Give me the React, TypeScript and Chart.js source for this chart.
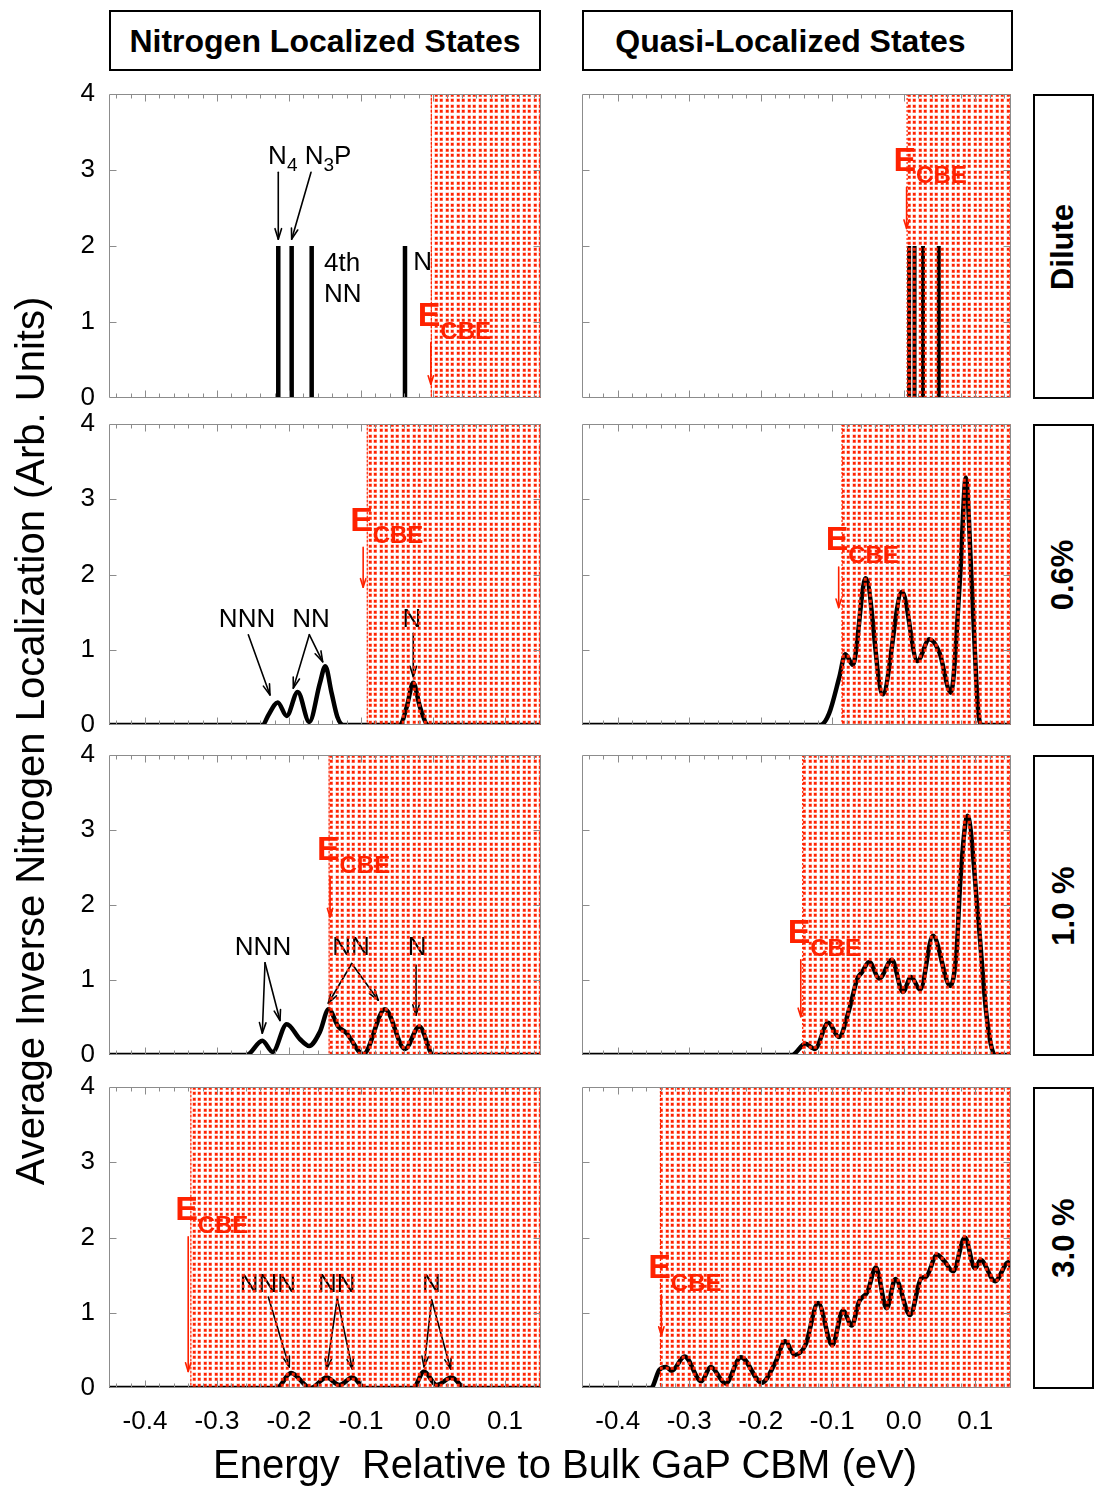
import React, { useEffect, useRef } from "react";
import { Chart, registerables } from "chart.js";

Chart.register(...registerables);

type Pt = [number, number];

// ---------- axes / text ----------
const X_MIN = -0.45;
const X_MAX = 0.15;
const Y_MIN = 0;
const Y_MAX = 4;
const X_TICKS = [-0.4, -0.3, -0.2, -0.1, 0.0, 0.1];
const X_MINOR_TICKS = [-0.44, -0.42, -0.38, -0.36, -0.34, -0.32, -0.28, -0.26, -0.24, -0.22, -0.18, -0.16, -0.14, -0.12, -0.08, -0.06, -0.04, -0.02, 0.02, 0.04, 0.06, 0.08, 0.12, 0.14];
const Y_TICKS = [0, 1, 2, 3, 4];

const COLUMN_TITLES = ["Nitrogen Localized States", "Quasi-Localized States"];
const ROW_LABELS = ["Dilute", "0.6%", "1.0 %", "3.0 %"];
const X_TITLE = "Energy  Relative to Bulk GaP CBM (eV)";
const Y_TITLE = "Average Inverse Nitrogen Localization (Arb. Units)";

// ---------- data ----------
const diluteNitrogenLevels = [-0.2149, -0.1963, -0.1685, -0.0389];
const diluteQuasiLevels = [0.0075, 0.0151, 0.0269, 0.049];
const diluteLevelHeight = 2;

const nitrogen06: Pt[] = [
  [-0.45, 0], [-0.2365, 0], [-0.2287, 0.13], [-0.2157, 0.30], [-0.2032, 0.12],
  [-0.1879, 0.44], [-0.1718, 0.04], [-0.157, 0.56], [-0.1496, 0.78], [-0.1407, 0.42],
  [-0.1329, 0.11], [-0.1246, 0], [-0.0458, 0], [-0.0365, 0.24], [-0.0274, 0.56],
  [-0.0181, 0.24], [-0.0065, 0], [0.15, 0],
];
const quasi06: Pt[] = [
  [-0.45, 0], [-0.1165, 0], [-0.1045, 0.15], [-0.09, 0.64], [-0.0817, 0.94],
  [-0.0713, 0.80], [-0.0532, 1.95], [-0.0295, 0.41], [-0.0023, 1.77], [0.0191, 0.85],
  [0.0358, 1.14], [0.050, 0.96], [0.0658, 0.43], [0.079, 2.0], [0.0868, 3.29],
  [0.095, 1.9], [0.104, 0.2], [0.1096, 0], [0.15, 0],
];
const nitrogen10: Pt[] = [
  [-0.45, 0], [-0.259, 0], [-0.237, 0.19], [-0.2226, 0.04], [-0.2032, 0.41],
  [-0.1847, 0.21], [-0.172, 0.12], [-0.157, 0.31], [-0.145, 0.61], [-0.1315, 0.38],
  [-0.12, 0.29], [-0.0968, 0.01], [-0.0667, 0.61], [-0.0389, 0.08], [-0.019, 0.38],
  [0.0004, 0], [0.15, 0],
];
const quasi10: Pt[] = [
  [-0.45, 0], [-0.1563, 0], [-0.1376, 0.15], [-0.1244, 0.08], [-0.1056, 0.43],
  [-0.0906, 0.24], [-0.0765, 0.6], [-0.0648, 1.02], [-0.0587, 1.10], [-0.0483, 1.24],
  [-0.0342, 1.02], [-0.0165, 1.27], [-0.0014, 0.84], [0.0103, 1.04], [0.023, 0.87],
  [0.0408, 1.59], [0.0652, 0.92], [0.074, 1.4], [0.079, 2.3], [0.0892, 3.19],
  [0.104, 1.84], [0.116, 0.51], [0.1277, 0], [0.15, 0],
];
const nitrogen30: Pt[] = [
  [-0.45, 0], [-0.217, 0], [-0.1972, 0.2], [-0.17, 0], [-0.1477, 0.14], [-0.13, 0.04],
  [-0.112, 0.14], [-0.0944, 0], [-0.0274, 0], [-0.0125, 0.22], [0.005, 0.04],
  [0.026, 0.14], [0.0444, 0], [0.15, 0],
];
const quasi30: Pt[] = [
  [-0.45, 0], [-0.3535, 0], [-0.3418, 0.24], [-0.3324, 0.28], [-0.3244, 0.23],
  [-0.3066, 0.42], [-0.2831, 0.09], [-0.27, 0.28], [-0.2493, 0.06], [-0.2277, 0.41],
  [-0.1986, 0.07], [-0.1799, 0.33], [-0.1658, 0.62], [-0.1525, 0.44], [-0.1376, 0.57],
  [-0.1197, 1.13], [-0.1, 0.57], [-0.085, 1.03], [-0.0728, 0.83], [-0.0625, 1.15],
  [-0.0507, 1.28], [-0.039, 1.60], [-0.0239, 1.06], [-0.0117, 1.45], [0.0089, 0.97],
  [0.0245, 1.46], [0.0314, 1.48], [0.0465, 1.77], [0.0573, 1.68], [0.069, 1.55],
  [0.0855, 2.0], [0.0996, 1.59], [0.1075, 1.70], [0.1277, 1.42], [0.1465, 1.67],
  [0.15, 1.6],
];

// conduction band edge (start of shaded region) per row
const cbeNitrogen = [-0.003, -0.092, -0.145, -0.337];
const cbeQuasi = [0.004, -0.087, -0.142, -0.341];
// E_CBE arrows: [x, yFrom, yTo]
const cbeArrowNitrogen: [number, number, number][] = [[-0.003, 0.73, 0.18], [-0.097, 2.36, 1.83], [-0.143, 2.38, 1.84], [-0.34, 2.01, 0.22]];
const cbeArrowQuasi: [number, number, number][] = [[0.004, 2.77, 2.23], [-0.091, 2.1, 1.56], [-0.144, 1.27, 0.51], [-0.339, 1.24, 0.7]];

// annotation labels (data coordinates) for the nitrogen column
type Part = { t: string; sub?: boolean };
type Label = { x: number; y: number; align: "left" | "center"; parts: Part[] };
const labelsNitrogen: Label[][] = [
  [
    { x: -0.229, y: 3.08, align: "left", parts: [{ t: "N" }, { t: "4", sub: true }, { t: " N" }, { t: "3", sub: true }, { t: "P" }] },
    { x: -0.1514, y: 1.67, align: "left", parts: [{ t: "4th" }] },
    { x: -0.1514, y: 1.26, align: "left", parts: [{ t: "NN" }] },
    { x: -0.0274, y: 1.69, align: "left", parts: [{ t: "N" }] },
  ],
  [
    { x: -0.2583, y: 1.30, align: "center", parts: [{ t: "NNN" }] },
    { x: -0.1694, y: 1.30, align: "center", parts: [{ t: "NN" }] },
    { x: -0.0292, y: 1.30, align: "center", parts: [{ t: "N" }] },
  ],
  [
    { x: -0.2361, y: 1.33, align: "center", parts: [{ t: "NNN" }] },
    { x: -0.1139, y: 1.33, align: "center", parts: [{ t: "NN" }] },
    { x: -0.0222, y: 1.33, align: "center", parts: [{ t: "N" }] },
  ],
  [
    { x: -0.2292, y: 1.28, align: "center", parts: [{ t: "NNN" }] },
    { x: -0.1338, y: 1.28, align: "center", parts: [{ t: "NN" }] },
    { x: -0.0024, y: 1.28, align: "center", parts: [{ t: "N" }] },
  ],
];
// black arrows: [x1, y1, x2, y2] in data coordinates
const arrowsNitrogen: [number, number, number, number][][] = [
  [[-0.2149, 2.97, -0.2149, 2.09], [-0.1694, 2.97, -0.1963, 2.09]],
  [[-0.2565, 1.2, -0.2264, 0.4], [-0.1718, 1.2, -0.194, 0.49], [-0.1718, 1.2, -0.1532, 0.84], [-0.0274, 1.22, -0.0274, 0.64]],
  [[-0.2333, 1.23, -0.2371, 0.29], [-0.2333, 1.23, -0.2125, 0.46], [-0.1129, 1.22, -0.1454, 0.69], [-0.1129, 1.22, -0.076, 0.73], [-0.0236, 1.2, -0.0236, 0.53]],
  [[-0.2287, 1.21, -0.1996, 0.28], [-0.1329, 1.19, -0.1476, 0.25], [-0.1329, 1.19, -0.112, 0.25], [-0.0018, 1.17, -0.0125, 0.28], [-0.0018, 1.17, 0.0246, 0.25]],
];

// ---------- layout ----------
const FONT = '"Liberation Sans", Arial, Helvetica, sans-serif';
const RED = "rgb(255,34,0)";
const FRAME = "#8c8c8c";
const COLS = [{ left: 109, width: 432 }, { left: 582, width: 429 }];
const ROWS = [{ top: 94, height: 304 }, { top: 424, height: 301 }, { top: 755, height: 300 }, { top: 1087, height: 301 }];
const ML = 60, MR = 20, MT = 34, MB = 34, MB_LAST = 64;

function drawArrow(ctx: CanvasRenderingContext2D, x1: number, y1: number, x2: number, y2: number, color: string, w: number, len: number, ang: number) {
  ctx.strokeStyle = color;
  ctx.lineWidth = w;
  ctx.lineCap = "round";
  ctx.lineJoin = "round";
  ctx.beginPath();
  ctx.moveTo(x1, y1);
  ctx.lineTo(x2, y2);
  ctx.stroke();
  const a = Math.atan2(y2 - y1, x2 - x1);
  ctx.beginPath();
  ctx.moveTo(x2 - len * Math.cos(a - ang), y2 - len * Math.sin(a - ang));
  ctx.lineTo(x2, y2);
  ctx.lineTo(x2 - len * Math.cos(a + ang), y2 - len * Math.sin(a + ang));
  ctx.stroke();
}

function makePattern(ctx: CanvasRenderingContext2D) {
  const c = document.createElement("canvas");
  c.width = 11;
  c.height = 11;
  const g = c.getContext("2d")!;
  const pos = [[1, 1], [6, 1], [1, 6], [6, 6]];
  pos.forEach(([dx, dy]) => {
    g.fillStyle = "rgba(255,50,20,0.45)";
    g.fillRect(dx - 0.5, dy - 0.5, 3.5, 3.5);
    g.fillStyle = RED;
    g.fillRect(dx, dy, 2.5, 2.5);
  });
  return ctx.createPattern(c, "repeat")!;
}

type PanelCfg = {
  row: number;
  col: number;
  levels?: number[];
  curve?: Pt[];
  shade: number;
  cbeArrow: [number, number, number];
  labels: Label[];
  arrows: [number, number, number, number][];
};

function Panel({ cfg }: { cfg: PanelCfg }) {
  const ref = useRef<HTMLCanvasElement>(null);
  const col = COLS[cfg.col];
  const row = ROWS[cfg.row];
  const isLast = cfg.row === ROWS.length - 1;
  const mb = isLast ? MB_LAST : MB;
  const w = col.width + ML + MR;
  const h = row.height + MT + mb;

  useEffect(() => {
    const canvas = ref.current!;
    let data: { x: number; y: number | null }[];
    if (cfg.levels) {
      data = cfg.levels.flatMap((e) => [
        { x: e, y: 0 },
        { x: e, y: diluteLevelHeight },
        { x: e, y: null },
      ]);
    } else {
      data = cfg.curve!.map(([x, y]) => ({ x, y }));
    }
    const decor = {
      id: "decor",
      afterDatasetsDraw(chart: any) {
        const { ctx, chartArea: a } = chart;
        const xs = chart.scales.x;
        const ys = chart.scales.y;
        ctx.save();
        ctx.beginPath();
        ctx.rect(a.left, a.top, a.right - a.left, a.bottom - a.top);
        ctx.clip();
        // black labels and arrows
        ctx.fillStyle = "#000";
        ctx.textBaseline = "alphabetic";
        ctx.textAlign = "left";
        cfg.labels.forEach((lb) => {
          const fonts = lb.parts.map((p) => (p.sub ? `19px ${FONT}` : `26px ${FONT}`));
          const widths = lb.parts.map((p, i) => {
            ctx.font = fonts[i];
            return ctx.measureText(p.t).width;
          });
          const total = widths.reduce((s, v) => s + v, 0);
          let cx = xs.getPixelForValue(lb.x);
          if (lb.align === "center") cx -= total / 2;
          const by = ys.getPixelForValue(lb.y);
          lb.parts.forEach((p, i) => {
            ctx.font = fonts[i];
            ctx.fillText(p.t, cx, by + (p.sub ? 7 : 0));
            cx += widths[i];
          });
        });
        cfg.arrows.forEach(([x1, y1, x2, y2]) => {
          drawArrow(ctx, xs.getPixelForValue(x1), ys.getPixelForValue(y1), xs.getPixelForValue(x2), ys.getPixelForValue(y2), "#000", 1.6, 11, 0.3);
        });
        // shaded conduction band region
        const sx = xs.getPixelForValue(cfg.shade);
        ctx.fillStyle = makePattern(ctx);
        ctx.fillRect(sx, a.top, a.right - sx, a.bottom - a.top);
        ctx.strokeStyle = RED;
        ctx.lineWidth = 1.2;
        ctx.setLineDash([2, 2]);
        ctx.beginPath();
        ctx.moveTo(sx + 0.5, a.top);
        ctx.lineTo(sx + 0.5, a.bottom);
        ctx.moveTo(a.right - 1, a.top);
        ctx.lineTo(a.right - 1, a.bottom);
        ctx.stroke();
        ctx.setLineDash([]);
        // E_CBE label and arrow
        const [axv, ay1v, ay2v] = cfg.cbeArrow;
        const ax = xs.getPixelForValue(axv);
        const ay1 = ys.getPixelForValue(ay1v);
        const ay2 = ys.getPixelForValue(ay2v);
        drawArrow(ctx, ax, ay1, ax, ay2, RED, 1.6, 9, 0.3);
        ctx.fillStyle = RED;
        ctx.font = `bold 34px ${FONT}`;
        ctx.fillText("E", ax - 13, ay1 - 16.5);
        ctx.font = `bold 24px ${FONT}`;
        ctx.fillText("CBE", ax + 9.5, ay1 - 4);
        ctx.restore();
      },
      afterDraw(chart: any) {
        const { ctx, chartArea: a } = chart;
        const xs = chart.scales.x;
        const ys = chart.scales.y;
        ctx.save();
        ctx.strokeStyle = FRAME;
        ctx.lineWidth = 1;
        ctx.beginPath();
        const L = Math.round(a.left) + 0.5, R = Math.round(a.right) - 0.5;
        const T = Math.round(a.top) + 0.5, B = Math.round(a.bottom) - 0.5;
        ctx.rect(L, T, R - L, B - T);
        X_TICKS.forEach((v) => {
          const px = Math.round(xs.getPixelForValue(v)) + 0.5;
          ctx.moveTo(px, B); ctx.lineTo(px, B - 7);
          ctx.moveTo(px, T); ctx.lineTo(px, T + 7);
        });
        X_MINOR_TICKS.forEach((v) => {
          const px = Math.round(xs.getPixelForValue(v)) + 0.5;
          ctx.moveTo(px, B); ctx.lineTo(px, B - 4);
          ctx.moveTo(px, T); ctx.lineTo(px, T + 4);
        });
        Y_TICKS.slice(1, -1).forEach((v) => {
          const py = Math.round(ys.getPixelForValue(v)) + 0.5;
          ctx.moveTo(L, py); ctx.lineTo(L + 7, py);
          ctx.moveTo(R, py); ctx.lineTo(R - 7, py);
        });
        ctx.stroke();
        ctx.restore();
      },
    };
    const chart = new Chart(canvas, {
      type: "scatter",
      data: {
        datasets: [
          {
            data: data as any,
            showLine: true,
            borderColor: "#000",
            borderWidth: cfg.levels ? (cfg.col === 0 ? 4.5 : 4) : 4.5,
            pointRadius: 0,
            pointHoverRadius: 0,
            tension: 0,
            cubicInterpolationMode: cfg.levels ? "default" : "monotone",
            spanGaps: false,
            borderCapStyle: "butt",
            borderJoinStyle: "round",
          } as any,
        ],
      },
      options: {
        animation: false,
        responsive: false,
        maintainAspectRatio: false,
        devicePixelRatio: 1,
        events: [],
        layout: { padding: { top: MT, right: MR, left: 0, bottom: 0 } },
        plugins: { legend: { display: false }, tooltip: { enabled: false } },
        scales: {
          x: {
            type: "linear",
            min: X_MIN,
            max: X_MAX,
            grid: { display: false, drawTicks: false },
            border: { display: false },
            ticks: {
              display: isLast,
              autoSkip: false,
              maxRotation: 0,
              padding: 18,
              color: "#000",
              font: { family: FONT, size: 26 },
              callback: (v: any) => Number(v).toFixed(1),
            },
            afterBuildTicks: (s: any) => {
              s.ticks = X_TICKS.map((v) => ({ value: v }));
            },
            afterFit: (s: any) => {
              s.height = mb;
            },
          },
          y: {
            type: "linear",
            min: Y_MIN,
            max: Y_MAX,
            grid: { display: false, drawTicks: false },
            border: { display: false },
            ticks: {
              display: cfg.col === 0,
              padding: 14,
              color: "#000",
              font: { family: FONT, size: 26 },
              callback: (v: any) => String(v),
            },
            afterBuildTicks: (s: any) => {
              s.ticks = Y_TICKS.map((v) => ({ value: v }));
            },
            afterFit: (s: any) => {
              s.width = ML;
            },
          },
        },
      } as any,
      plugins: [decor as any],
    });
    return () => chart.destroy();
  }, []);

  return (
    <canvas
      ref={ref}
      width={w}
      height={h}
      style={{ position: "absolute", left: col.left - ML, top: row.top - MT, width: w, height: h }}
    />
  );
}

const PANELS: PanelCfg[] = [
  { row: 0, col: 0, levels: diluteNitrogenLevels, shade: cbeNitrogen[0], cbeArrow: cbeArrowNitrogen[0], labels: labelsNitrogen[0], arrows: arrowsNitrogen[0] },
  { row: 0, col: 1, levels: diluteQuasiLevels, shade: cbeQuasi[0], cbeArrow: cbeArrowQuasi[0], labels: [], arrows: [] },
  { row: 1, col: 0, curve: nitrogen06, shade: cbeNitrogen[1], cbeArrow: cbeArrowNitrogen[1], labels: labelsNitrogen[1], arrows: arrowsNitrogen[1] },
  { row: 1, col: 1, curve: quasi06, shade: cbeQuasi[1], cbeArrow: cbeArrowQuasi[1], labels: [], arrows: [] },
  { row: 2, col: 0, curve: nitrogen10, shade: cbeNitrogen[2], cbeArrow: cbeArrowNitrogen[2], labels: labelsNitrogen[2], arrows: arrowsNitrogen[2] },
  { row: 2, col: 1, curve: quasi10, shade: cbeQuasi[2], cbeArrow: cbeArrowQuasi[2], labels: [], arrows: [] },
  { row: 3, col: 0, curve: nitrogen30, shade: cbeNitrogen[3], cbeArrow: cbeArrowNitrogen[3], labels: labelsNitrogen[3], arrows: arrowsNitrogen[3] },
  { row: 3, col: 1, curve: quasi30, shade: cbeQuasi[3], cbeArrow: cbeArrowQuasi[3], labels: [], arrows: [] },
];

export default function App() {
  const boxStyle: React.CSSProperties = {
    position: "absolute",
    border: "2px solid #000",
    boxSizing: "border-box",
    display: "flex",
    alignItems: "center",
    justifyContent: "center",
    fontFamily: FONT,
    fontWeight: "bold",
    fontSize: 32,
    color: "#000",
    background: "#fff",
  };
  return (
    <div style={{ position: "absolute", left: 0, top: 0, width: 1099, height: 1487, background: "#fff", overflow: "hidden" }}>
      {COLUMN_TITLES.map((t, i) => (
        <div
          key={t}
          style={{
            ...boxStyle,
            left: COLS[i].left,
            top: 10,
            width: COLS[i].width + (i === 1 ? 2 : 0),
            height: 61,
            paddingRight: i === 1 ? 14 : 0,
            paddingTop: 2,
          }}
        >
          {t}
        </div>
      ))}
      {ROW_LABELS.map((t, i) => (
        <div key={t} style={{ ...boxStyle, left: 1033, top: ROWS[i].top, width: 61, height: ROWS[i].height + 1, fontSize: 31 }}>
          <span style={{ display: "inline-block", transform: "rotate(-90deg)", whiteSpace: "nowrap" }}>{t}</span>
        </div>
      ))}
      {PANELS.map((p) => (
        <Panel key={`${p.row}-${p.col}`} cfg={p} />
      ))}
      <div
        style={{
          position: "absolute",
          left: 30 - 500,
          top: 741 - 25,
          width: 1000,
          height: 50,
          lineHeight: "50px",
          textAlign: "center",
          fontFamily: FONT,
          fontSize: 40,
          color: "#000",
          transform: "rotate(-90deg)",
          whiteSpace: "pre",
        }}
      >
        {Y_TITLE}
      </div>
      <div
        style={{
          position: "absolute",
          left: 565 - 500,
          top: 1439,
          width: 1000,
          height: 50,
          lineHeight: "50px",
          textAlign: "center",
          fontFamily: FONT,
          fontSize: 40,
          color: "#000",
          whiteSpace: "pre",
        }}
      >
        {X_TITLE}
      </div>
    </div>
  );
}
